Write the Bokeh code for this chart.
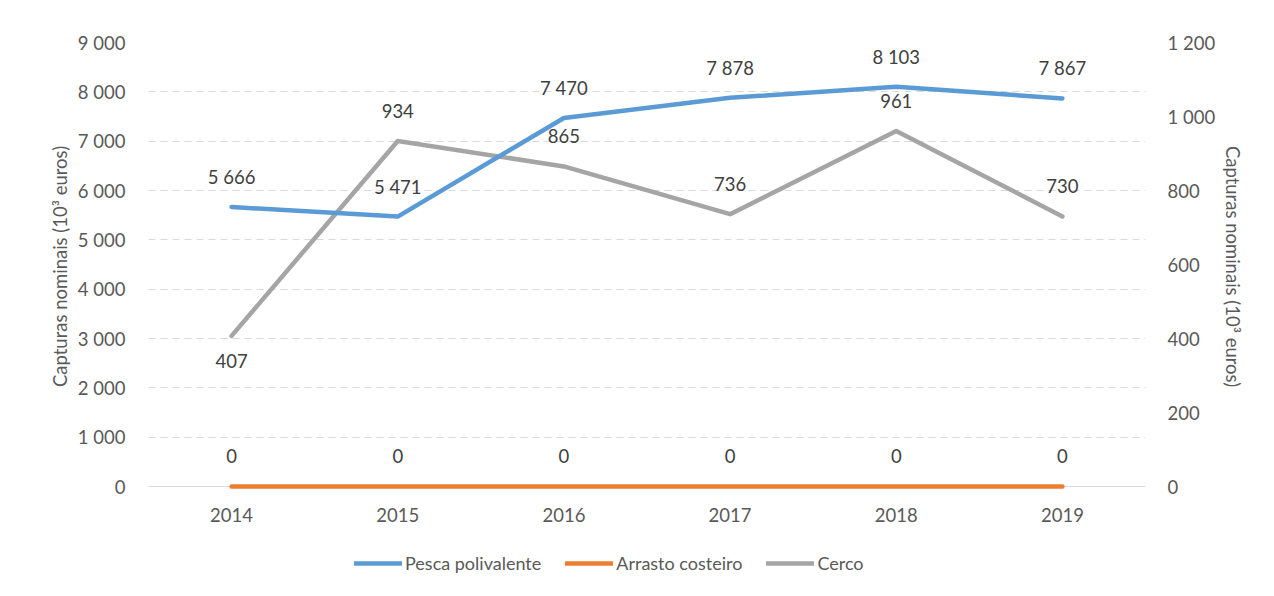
from bokeh.plotting import figure
from bokeh.layouts import column
from bokeh.models import Range1d, LinearAxis, FactorRange, ColumnDataSource, Legend, LegendItem, FixedTicker, Span
from bokeh.core.properties import value
from bokeh.embed import file_html
from bokeh.resources import INLINE

years = ["2014", "2015", "2016", "2017", "2018", "2019"]
pesca = [5666, 5471, 7470, 7878, 8103, 7867]
arrasto = [0, 0, 0, 0, 0, 0]
cerco = [407, 934, 865, 736, 961, 730]
left_ticks = [0, 1000, 2000, 3000, 4000, 5000, 6000, 7000, 8000, 9000]
right_ticks = [0, 200, 400, 600, 800, 1000, 1200]
series_names = ["Pesca polivalente", "Arrasto costeiro", "Cerco"]
axis_title = "Capturas nominais (10³ euros)"

# label placement (pixels, screen: negative = up)
pesca_dy = [-30, -30, -30, -30, -30, -30]
arrasto_dy = [-31, -31, -31, -31, -31, -31]
cerco_dy = [25, -30, -30, -30, -30, -30]

FONT = "Lato"
FS = "18.5px"
TICK_COL = "#595959"
LABEL_COL = "#404040"
BLUE, ORANGE, GRAY = "#5B9BD5", "#ED7D31", "#A5A5A5"

# frame extends 4px below zero so the zero line is not clipped
PAD = 4 / 444


def fmt(v):
    return f"{v:,}".replace(",", " ")


p = figure(width=1266, height=540, x_range=FactorRange(*years),
           y_range=Range1d(-9000 * PAD, 9000),
           output_backend="svg", toolbar_location=None,
           min_border_left=148, min_border_right=121, min_border_top=42, min_border_bottom=50)
p.extra_y_ranges = {"right": Range1d(-1200 * PAD, 1200)}
p.outline_line_color = None
p.background_fill_color = "white"
p.border_fill_color = "white"

# grid
p.xgrid.grid_line_color = None
p.ygrid.grid_line_color = "#D9D9D9"
p.ygrid.grid_line_dash = "7 5"
p.ygrid.grid_line_width = 1
p.ygrid.ticker = FixedTicker(ticks=left_ticks[1:])
p.add_layout(Span(location=0, dimension="width", line_color="#D9D9D9", line_width=1, level="underlay"))

# left axis
ya = p.yaxis[0]
ya.ticker = FixedTicker(ticks=left_ticks)
ya.major_label_overrides = {t: fmt(t) for t in left_ticks}
ya.axis_line_color = None
ya.major_tick_line_color = None
ya.minor_tick_line_color = None
ya.major_label_standoff = 17
ya.major_label_text_font = FONT
ya.major_label_text_font_size = FS
ya.major_label_text_color = TICK_COL
ya.axis_label = axis_title
ya.axis_label_text_font = FONT
ya.axis_label_text_font_size = FS
ya.axis_label_text_font_style = "normal"
ya.axis_label_text_color = TICK_COL
ya.axis_label_standoff = 4

# right axis
ra = LinearAxis(y_range_name="right", ticker=FixedTicker(ticks=right_ticks))
ra.major_label_overrides = {t: fmt(t) for t in right_ticks}
ra.axis_line_color = None
ra.major_tick_line_color = None
ra.minor_tick_line_color = None
ra.major_label_standoff = 16
ra.major_label_text_font = FONT
ra.major_label_text_font_size = FS
ra.major_label_text_color = TICK_COL
ra.axis_label = axis_title
ra.axis_label_text_font = FONT
ra.axis_label_text_font_size = FS
ra.axis_label_text_font_style = "normal"
ra.axis_label_text_color = TICK_COL
ra.axis_label_standoff = 4
p.add_layout(ra, "right")

# x axis
xa = p.xaxis[0]
xa.axis_line_color = None
xa.major_tick_line_color = None
xa.minor_tick_line_color = None
xa.major_label_standoff = 11
xa.major_label_text_font = FONT
xa.major_label_text_font_size = FS
xa.major_label_text_color = TICK_COL

src = ColumnDataSource(dict(
    x=years, pesca=pesca, arrasto=arrasto, cerco=cerco,
    pesca_t=[fmt(v) for v in pesca], arrasto_t=[fmt(v) for v in arrasto], cerco_t=[fmt(v) for v in cerco],
    pesca_dy=pesca_dy, arrasto_dy=arrasto_dy, cerco_dy=cerco_dy,
))

line_kw = dict(line_width=4.5, line_cap="round", line_join="round")
r_cerco = p.line("x", "cerco", source=src, color=GRAY, y_range_name="right", **line_kw)
r_pesca = p.line("x", "pesca", source=src, color=BLUE, **line_kw)
r_arr = p.line("x", "arrasto", source=src, color=ORANGE, **line_kw)

common = dict(text_font=value(FONT), text_font_size=value(FS), text_color=LABEL_COL,
              text_align="center", text_baseline="middle")
p.text("x", "pesca", text="pesca_t", y_offset="pesca_dy", source=src, **common)
p.text("x", "arrasto", text="arrasto_t", y_offset="arrasto_dy", source=src, **common)
p.text("x", "cerco", text="cerco_t", y_offset="cerco_dy", source=src, y_range_name="right", **common)

# legend strip below the chart (legend swatches only; no data drawn here)
lg = figure(width=1266, height=48, output_backend="svg", toolbar_location=None,
            x_range=Range1d(0, 1), y_range=Range1d(0, 1), min_border=0,
            x_axis_type=None, y_axis_type=None)
lg.grid.visible = False
lg.outline_line_color = None
nan = float("nan")
lg_renderers = [lg.line(x=[nan], y=[nan], color=c, **line_kw) for c in (BLUE, ORANGE, GRAY)]
legend = Legend(items=[LegendItem(label=n, renderers=[r]) for n, r in zip(series_names, lg_renderers)],
                orientation="horizontal", location=(206, 14),
                border_line_color=None, background_fill_alpha=0,
                glyph_width=48, glyph_height=20, label_standoff=3, spacing=24,
                label_text_font=FONT, label_text_font_size="18px", label_text_color=TICK_COL,
                margin=0, padding=6)
lg.add_layout(legend, "center")

layout = column(p, lg, spacing=0)
open("out.html", "w").write(file_html(layout, INLINE))
